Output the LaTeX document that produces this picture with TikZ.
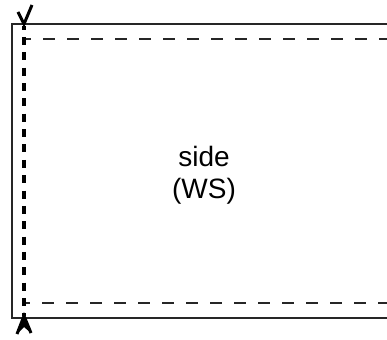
\documentclass[tikz,border=0pt]{standalone}
\usepackage{fontspec}
\setmainfont{Liberation Sans}
\begin{document}
\begin{tikzpicture}[x=1pt,y=-1pt,
  solidline/.style={line width=2pt,black!85},
  thindash/.style={line width=1.6pt,black!85,dash pattern=on 12pt off 12pt},
  thickdash/.style={line width=3.5pt,black,dash pattern=on 8pt off 7.35pt},
  tipline/.style={line width=3pt,black,line join=miter}]
\useasboundingbox (0,0) rectangle (387,339);
\coordinate (tl) at (12,24);
\coordinate (tr) at (390,24);
\coordinate (bl) at (12,318);
\coordinate (br) at (390,318);
\draw[solidline] (tr) -- (tl) -- (bl) -- (br);
\coordinate (dtl) at (24,39);
\coordinate (dtr) at (390,39);
\coordinate (dbl) at (24,303);
\coordinate (dbr) at (390,303);
\draw[thindash,dash phase=5pt] (dtl) -- (dtr);
\draw[thindash,dash phase=6pt] (dbl) -- (dbr);
\coordinate (vt) at (24,26);
\coordinate (vb) at (24,316);
\draw[thickdash,dash phase=4.35pt] (vt) -- (vb);
% top arrow
\coordinate (ta) at (24,24);
\coordinate (tal) at (18,12);
\coordinate (tar) at (32,5);
\draw[tipline] (tal) -- (ta) -- (tar);
% bottom arrow
\coordinate (ba) at (24,316);
\coordinate (bal) at (17,334);
\coordinate (bar) at (31,333);
\fill[black] (ba) -- (bar) -- (24,327) -- (bal) -- cycle;
\draw[tipline] (bal) -- (ba) -- (bar);
\node[font=\fontsize{28}{32}\selectfont,align=center,inner sep=0pt] (lbl) at (204,175) {side\\(WS)};
\end{tikzpicture}
\end{document}
